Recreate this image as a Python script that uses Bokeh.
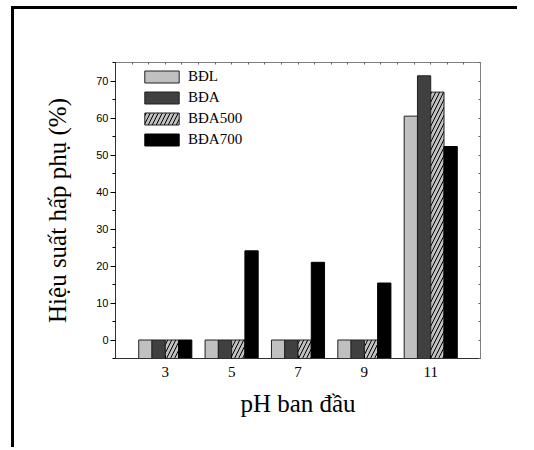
from bokeh.plotting import figure
from bokeh.models import ColumnDataSource, FixedTicker, LinearAxis, Range1d, Legend, LegendItem
from bokeh.transform import dodge
from bokeh.embed import file_html
from bokeh.resources import INLINE

ph = [3, 5, 7, 9, 11]
bdl = [0, 0, 0, 0, 60.5]
bda = [0, 0, 0, 0, 71.4]
bda500 = [0, 0, 0, 0, 67.0]
bda700 = [0, 24.1, 21.0, 15.4, 52.3]
series_names = ["BĐL", "BĐA", "BĐA500", "BĐA700"]
y_ticks = [0, 10, 20, 30, 40, 50, 60, 70]

src = ColumnDataSource(dict(ph=ph, bdl=bdl, bda=bda, bda500=bda500, bda700=bda700))

SERIF = "Liberation Serif"
SANS = "Liberation Sans"

p = figure(width=506, height=441, output_backend="svg", toolbar_location=None,
           x_range=Range1d(1.5, 12.5), y_range=Range1d(-5, 75),
           min_border_left=101, min_border_right=40, min_border_top=53, min_border_bottom=92)
p.styles = {"border-left": "3px solid black", "border-top": "3px solid black",
            "margin-left": "11px", "margin-top": "6px"}
p.xgrid.visible = False
p.ygrid.visible = False
p.background_fill_color = "white"
p.border_fill_color = "white"
p.outline_line_color = "#808080"

base = -5
w = 0.4
r1 = p.vbar(x=dodge("ph", -0.6), top="bdl", bottom=base, width=w, source=src,
            fill_color="#c0c0c0", line_color="#202020", line_width=1)
r2 = p.vbar(x=dodge("ph", -0.2), top="bda", bottom=base, width=w, source=src,
            fill_color="#404040", line_color="#202020", line_width=1)
r3 = p.vbar(x=dodge("ph", 0.2), top="bda500", bottom=base, width=w, source=src,
            fill_color="#c0c0c0", line_color="#202020", line_width=1,
            hatch_pattern="/", hatch_color="#000000", hatch_scale=8, hatch_weight=1)
r4 = p.vbar(x=dodge("ph", 0.6), top="bda700", bottom=base, width=w, source=src,
            fill_color="#000000", line_color="#000000", line_width=1)

# axes
xa = p.xaxis[0]
xa.ticker = FixedTicker(ticks=ph, minor_ticks=[])
xa.axis_label = "pH ban đầu"
xa.axis_label_text_font = SERIF
xa.axis_label_text_font_size = "25px"
xa.axis_label_text_font_style = "normal"
xa.axis_label_text_color = "black"
xa.axis_label_standoff = 10
xa.major_label_text_font = SERIF
xa.major_label_text_font_size = "15px"
xa.major_label_text_color = "black"
xa.major_label_standoff = 8
xa.major_tick_in = 3
xa.major_tick_out = 0
xa.axis_line_color = "#303030"

ya = p.yaxis[0]
ya.ticker = FixedTicker(ticks=y_ticks, minor_ticks=[t + 5 for t in y_ticks] + [-5])
ya.axis_label = "Hiệu suất hấp phụ (%)"
ya.axis_label_text_font = SERIF
ya.axis_label_text_font_size = "25px"
ya.axis_label_text_font_style = "normal"
ya.axis_label_text_color = "black"
ya.axis_label_standoff = 22
ya.major_label_text_font = SANS
ya.major_label_text_font_size = "11px"
ya.major_label_text_color = "black"
ya.major_label_standoff = 2
ya.major_tick_in = 0
ya.major_tick_out = 5
ya.minor_tick_in = 0
ya.minor_tick_out = 3
ya.axis_line_color = "#303030"

top_ticks = [2 + 0.5 * i for i in range(21)]
right_ticks = list(range(-5, 76, 5))
top_ax = LinearAxis(ticker=FixedTicker(ticks=top_ticks, minor_ticks=[]),
                    major_label_overrides={t: "" for t in top_ticks},
                    major_tick_in=2, major_tick_out=0,
                    axis_line_color="#808080", major_tick_line_color="#606060")
right_ax = LinearAxis(ticker=FixedTicker(ticks=right_ticks, minor_ticks=[]),
                      major_label_overrides={t: "" for t in right_ticks},
                      major_tick_in=2, major_tick_out=0,
                      axis_line_color="#808080", major_tick_line_color="#606060")
p.add_layout(top_ax, "above")
p.add_layout(right_ax, "right")

legend = Legend(items=[LegendItem(label=series_names[0], renderers=[r1]),
                       LegendItem(label=series_names[1], renderers=[r2]),
                       LegendItem(label=series_names[2], renderers=[r3]),
                       LegendItem(label=series_names[3], renderers=[r4])],
                location=(25, 210), orientation="vertical",
                glyph_width=43, glyph_height=15, label_height=15, spacing=4,
                label_standoff=5, padding=0, margin=0,
                label_text_font=SERIF, label_text_font_size="15px",
                label_text_color="black",
                border_line_color=None, background_fill_alpha=0)
p.add_layout(legend, "center")

open("out.html", "w").write(file_html(p, INLINE))
